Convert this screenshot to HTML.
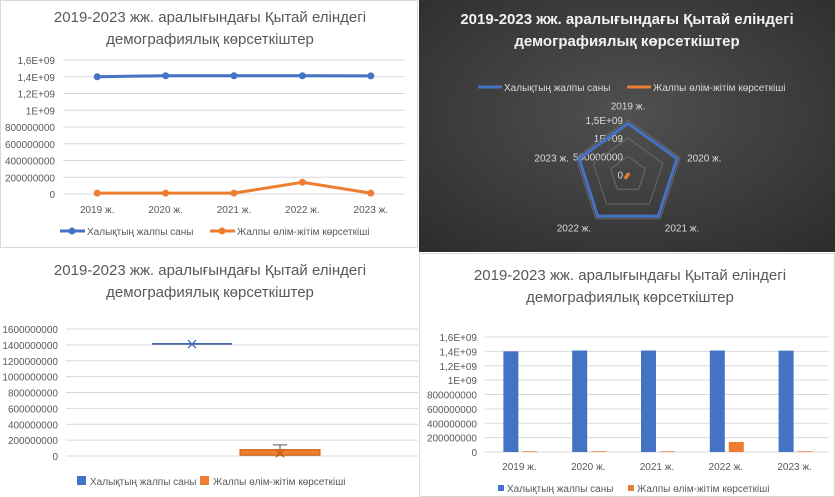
<!DOCTYPE html>
<html><head><meta charset="utf-8"><style>
html,body{margin:0;padding:0;width:835px;height:497px;overflow:hidden;background:#fff}
svg{display:block;font-family:"Liberation Sans",sans-serif}
</style></head><body>
<svg id="s" width="835" height="497" viewBox="0 0 835 497"></svg>
<script>
const categories=["2019 ж.","2020 ж.","2021 ж.","2022 ж.","2023 ж."];
const population=[1400000000,1412000000,1412000000,1412000000,1410000000];
const mortality=[10000000,10000000,10000000,140000000,10000000];
const ticksE=["0","200000000","400000000","600000000","800000000","1E+09","1,2E+09","1,4E+09","1,6E+09"];
const ticksPlain=["0","200000000","400000000","600000000","800000000","1000000000","1200000000","1400000000","1600000000"];
const radarTicks=["0","500000000","1E+09","1,5E+09"];
const seriesNames=["Халықтың жалпы саны","Жалпы өлім-жітім көрсеткіші"];
const TITLE1="2019-2023 жж. аралығындағы Қытай еліндегі",TITLE2="демографиялық көрсеткіштер";
const BLUE="#4472C4",OR="#ED7D31";
const S=document.getElementById('s');const NS="http://www.w3.org/2000/svg";
function el(t,a,p,txt){const e=document.createElementNS(NS,t);for(const k in a)e.setAttribute(k,a[k]);if(txt!=null)e.textContent=txt;(p||S).appendChild(e);return e;}
function grp(name){const g=el('g',{});return g;}
function named(e,n,i){return e;}
function title(g,cx,y1,y2,fill,bold){named(el('text',{x:cx,y:y1,'text-anchor':'middle','font-size':15,fill:fill,'font-weight':bold?'bold':'normal'},g,TITLE1),'chart-title-line1');named(el('text',{x:cx,y:y2,'text-anchor':'middle','font-size':15,fill:fill,'font-weight':bold?'bold':'normal'},g,TITLE2),'chart-title-line2');}
function yAxis(g,x0,x1,y0,y1,labels,max){const ys=v=>y0-(v/max)*(y0-y1);labels.forEach((t,i)=>{const v=i*max/(labels.length-1);const y=ys(v);named(el('line',{x1:x0,x2:x1,y1:y,y2:y,stroke:'#d9d9d9','stroke-width':1},g),'gridline');named(el('text',{x:x0-8,y:y+4,'text-anchor':'end','font-size':10,fill:'#595959'},g,t),'y-tick-label');});return ys;}
// panel 1 line chart
(function(){const g=grp('line-chart');
named(el('rect',{x:0.5,y:0.5,width:417,height:247,fill:'#fff',stroke:'#d9d9d9'},g),'chart-frame');
title(g,210,22,44,'#595959');
const x0=63,x1=405,bw=(x1-x0)/5,xs=i=>x0+bw*(i+0.5);const ys=yAxis(g,x0,x1,194,60,ticksE,1.6e9);
categories.forEach((c,i)=>named(el('text',{x:xs(i),y:213,'text-anchor':'middle','font-size':10,fill:'#595959'},g,c),'x-tick-label'));
[[population,BLUE],[mortality,OR]].forEach(([d,c],k)=>{named(el('polyline',{points:d.map((v,i)=>xs(i)+','+ys(v)).join(' '),fill:'none',stroke:c,'stroke-width':3},g),'series-line-'+(k+1));d.forEach((v,i)=>named(el('circle',{cx:xs(i),cy:ys(v),r:3.5,fill:c},g),'data-point'));});
[[60,BLUE],[210,OR]].forEach(([x,c],k)=>{named(el('line',{x1:x,x2:x+25,y1:231,y2:231,stroke:c,'stroke-width':3},g),'legend-line');named(el('circle',{cx:x+12,cy:231,r:3.5,fill:c},g),'legend-marker');named(el('text',{x:x+27,y:235,'font-size':10,fill:'#595959'},g,seriesNames[k]),'legend-entry');});
})();
// panel 2 radar
(function(){const g=grp('radar-chart');
const df=el('defs',{},g);const rg=el('radialGradient',{id:'dg',cx:'50%',cy:'45%',r:'70%'},df);el('stop',{offset:'0','stop-color':'#505050'},rg);el('stop',{offset:'1','stop-color':'#2e2e2e'},rg);
named(el('rect',{x:419,y:0,width:416,height:252,fill:'url(#dg)'},g),'chart-background');
title(g,627,24,46,'#f2f2f2',true);
[[478,BLUE],[627,OR]].forEach(([x,c],k)=>{named(el('line',{x1:x,x2:x+24,y1:87,y2:87,stroke:c,'stroke-width':3},g),'legend-line');named(el('text',{x:x+26,y:91,'font-size':10,fill:'#d9d9d9'},g,seriesNames[k]),'legend-entry');});
const cx=628,cy=174.5,R=54.7,max=1.5e9;const pt=(i,v)=>{const a=-Math.PI/2+i*2*Math.PI/5,r=v/max*R;return [cx+r*Math.cos(a),cy+r*Math.sin(a)];};
radarTicks.forEach((t,j)=>{const v=j*5e8;if(j>0)named(el('polygon',{points:[0,1,2,3,4].map(i=>pt(i,v).join(',')).join(' '),fill:'none',stroke:'#6a6a6a','stroke-width':1},g),'radar-ring');named(el('text',{x:cx-5,y:cy-v/max*R+4,'text-anchor':'end','font-size':10,fill:'#d9d9d9'},g,t),'radar-tick-label');});
[population,mortality].forEach((d,k)=>named(el('polygon',{points:d.map((v,i)=>pt(i,v).join(',')).join(' '),fill:'none',stroke:k?OR:BLUE,'stroke-width':3,'stroke-linejoin':'miter'},g),'radar-series-'+(k+1)));
const anc=['middle','start','start','end','end'],off=[[0,-9],[6,4],[4,12],[-4,12],[-6,4]];
categories.forEach((c,i)=>{const p=pt(i,1.5e9*1.02);named(el('text',{x:p[0]+off[i][0],y:p[1]+off[i][1],'text-anchor':anc[i],'font-size':10,fill:'#d9d9d9'},g,c),'radar-category-label');});
})();
// panel 3 box plot
(function(){const g=grp('box-plot');
named(el('rect',{x:0,y:251,width:418,height:246,fill:'#fff'},g),'chart-background');
title(g,210,275,297,'#595959');
const x0=66,x1=418;const ys=yAxis(g,x0,x1,456,329,ticksPlain,1.6e9);
const mean=a=>a.reduce((s,v)=>s+v,0)/a.length;const srt=a=>[...a].sort((p,q)=>p-q);
const center=236,offs=44;
[population,mortality].forEach((d,k)=>{const s=srt(d),c=k?OR:BLUE,cx=center+(k?offs:-offs),w=80;
const q1=s[1];
if(k===0){named(el('line',{x1:cx-w/2,x2:cx+w/2,y1:ys(s[2]),y2:ys(s[2]),stroke:'#2F5597','stroke-width':1.5},g),'box-median');}
else{named(el('rect',{x:cx-w/2,y:ys(80000000),width:w,height:ys(q1)-ys(80000000),fill:OR,stroke:'#c55a11'},g),'box');
named(el('line',{x1:cx,x2:cx,y1:ys(s[4]),y2:ys(80000000),stroke:'#595959'},g),'whisker');named(el('line',{x1:cx-7,x2:cx+7,y1:ys(s[4]),y2:ys(s[4]),stroke:'#595959'},g),'whisker-cap');}
const my=ys(mean(d));named(el('path',{d:`M${cx-4},${my-4}L${cx+4},${my+4}M${cx-4},${my+4}L${cx+4},${my-4}`,stroke:k?'#c55a11':BLUE,'stroke-width':1.3},g),'mean-marker');});
[[77,BLUE],[200,OR]].forEach(([x,c],k)=>{named(el('rect',{x:x,y:476,width:9,height:9,fill:c},g),'legend-swatch');named(el('text',{x:x+13,y:485,'font-size':10,fill:'#595959'},g,seriesNames[k]),'legend-entry');});
})();
// panel 4 bars
(function(){const g=grp('bar-chart');
named(el('rect',{x:419.5,y:253.5,width:415,height:243,fill:'#fff',stroke:'#d9d9d9'},g),'chart-frame');
title(g,630,280,302,'#595959');
const x0=485,x1=829,bw=(x1-x0)/5;const ys=yAxis(g,x0,x1,452,337,ticksE,1.6e9);
categories.forEach((c,i)=>{const cx=x0+bw*(i+0.5);named(el('text',{x:cx,y:470,'text-anchor':'middle','font-size':10,fill:'#595959'},g,c),'x-tick-label');
named(el('rect',{x:cx-16,y:ys(population[i]),width:15,height:452-ys(population[i]),fill:BLUE},g),'bar-population-'+i);
named(el('rect',{x:cx+3,y:ys(mortality[i]),width:15,height:452-ys(mortality[i]),fill:OR},g),'bar-mortality-'+i);});
[[498,BLUE],[628,OR]].forEach(([x,c],k)=>{named(el('rect',{x:x,y:485,width:6,height:6,fill:c},g),'legend-swatch');named(el('text',{x:x+9,y:492,'font-size':10,fill:'#595959'},g,seriesNames[k]),'legend-entry');});
})();
</script>
</body></html>
